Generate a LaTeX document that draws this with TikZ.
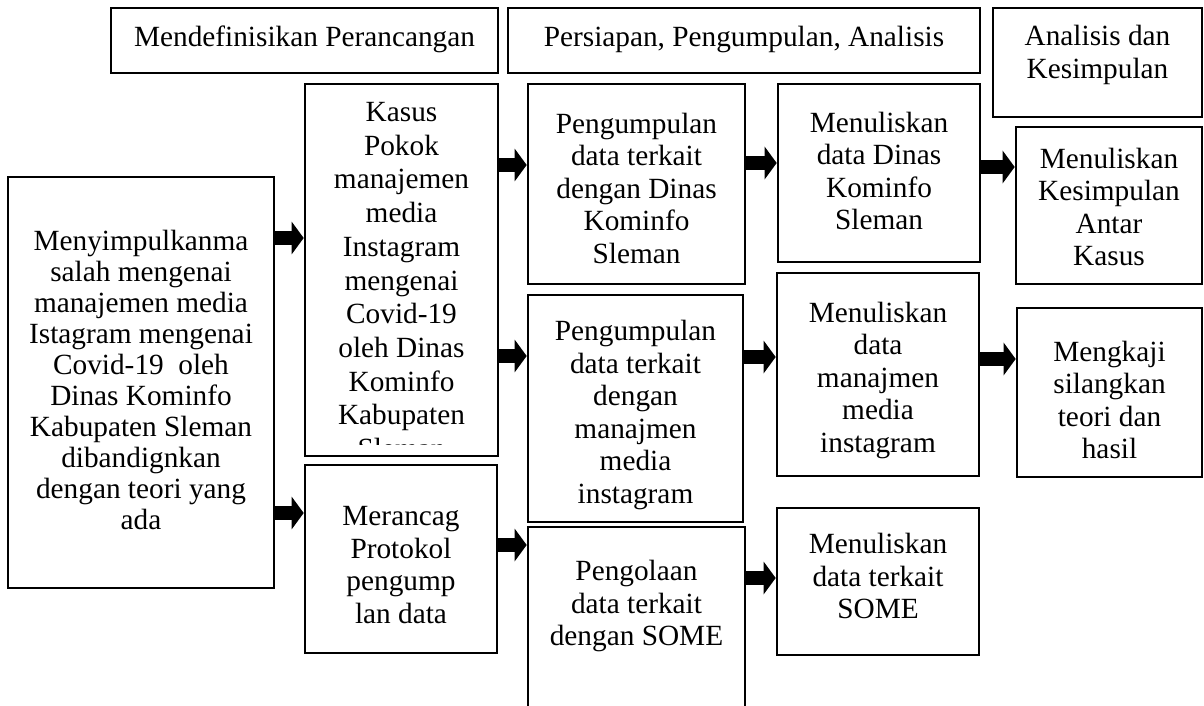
\documentclass[tikz,border=0pt]{standalone}
\usepackage{fontspec}
\setmainfont{Liberation Serif}
\usetikzlibrary{arrows.meta,fit}

\newcommand\isi{\fontsize{14.65}{16.25}\selectfont}
\tikzset{
    kotak/.style={draw, line width=1.3pt, inner sep=0pt},
    teks/.style={inner sep=0pt, align=center, font=\isi},
    panah/.style={line width=7pt, -{Triangle[length=6pt, width=16pt]}},
}

\begin{document}
\begin{tikzpicture}[x=0.5pt, y=-0.5pt]
    \useasboundingbox[fill=white] (0,0) rectangle (1204,706);
    \clip (0,0) rectangle (1204,706);

    % Header row
    \node[kotak, fit={(111,8) (498,73)}] (Hdr1) {};
    \node[teks] (Hdr1t) at (304.5,39) {Mendefinisikan Perancangan};
    \node[kotak, fit={(508,8) (980,73)}] (Hdr2) {};
    \node[teks] (Hdr2t) at (744,39) {Persiapan, Pengumpulan, Analisis};
    \node[kotak, fit={(993,8) (1202,117)}] (Hdr3) {};
    \node[teks] (Hdr3t) at (1097.5,55) {Analisis dan\\Kesimpulan};

    % Column 1
    \node[kotak, fit={(8,177) (274,588)}] (Kiri) {};
    \node[teks, font=\fontsize{14.65}{15.5}\selectfont] (Kirit) at (141,379.5) {Menyimpulkanma\\salah mengenai\\manajemen media\\Istagram mengenai\\Covid-19\ \ oleh\\Dinas Kominfo\\Kabupaten Sleman\\dibandignkan\\dengan teori yang\\ada};

    % Column 2
    \node[kotak, fit={(305,84) (498,456)}] (Kasus) {};
    \begin{scope}
        \clip (305,86) rectangle (498,444);
        \node[teks, font=\fontsize{14.65}{16.85}\selectfont, anchor=north] (Kasust) at (401.5,102) {Kasus\\Pokok\\manajemen\\media\\Instagram\\mengenai\\Covid-19\\oleh Dinas\\Kominfo\\Kabupaten\\Sleman};
    \end{scope}
    \node[kotak, fit={(305,465) (497,653)}] (Rancang) {};
    \node[teks] (Rancangt) at (401,565) {Merancag\\Protokol\\pengump\\lan data};

    % Column 3
    \node[kotak, fit={(528,84) (745,284)}] (Kumpul1) {};
    \node[teks] (Kumpul1t) at (636.5,188) {Pengumpulan\\data terkait\\dengan Dinas\\Kominfo\\Sleman};
    \node[kotak, fit={(528,295) (743,522)}] (Kumpul2) {};
    \node[teks] (Kumpul2t) at (635.5,415) {Pengumpulan\\data terkait\\dengan\\manajmen\\media\\instagram};
    \node[kotak, fit={(528,527) (745,730)}] (Olah) {};
    \node[teks] (Olaht) at (636.5,606) {Pengolaan\\data terkait\\dengan SOME};

    % Column 4
    \node[kotak, fit={(778,84) (980,262)}] (Tulis1) {};
    \node[teks] (Tulis1t) at (879,171) {Menuliskan\\data Dinas\\Kominfo\\Sleman};
    \node[kotak, fit={(777,273) (979,476)}] (Tulis2) {};
    \node[teks] (Tulis2t) at (878,380) {Menuliskan\\data\\manajmen\\media\\instagram};
    \node[kotak, fit={(777,508) (979,655)}] (Tulis3) {};
    \node[teks] (Tulis3t) at (878,576) {Menuliskan\\data terkait\\SOME};

    % Column 5
    \node[kotak, fit={(1016,127) (1202,284)}] (Simpul) {};
    \node[teks] (Simpult) at (1109,207) {Menuliskan\\Kesimpulan\\Antar\\Kasus};
    \node[kotak, fit={(1017,308) (1202,477)}] (Kaji) {};
    \node[teks] (Kajit) at (1109.5,400) {Mengkaji\\silangkan\\teori dan\\hasil};

    % Arrows
    \draw[panah] (Kiri.east |- 0,238) -- (Kasus.west |- 0,238);
    \draw[panah] (Kiri.east |- 0,513) -- (Rancang.west |- 0,513);
    \draw[panah] (Kasus.east |- 0,165) -- (Kumpul1.west |- 0,165);
    \draw[panah] (Kasus.east |- 0,356) -- (Kumpul2.west |- 0,356);
    \draw[panah] (Rancang.east |- 0,545) -- (Olah.west |- 0,545);
    \draw[panah] (Kumpul1.east |- 0,163) -- (Tulis1.west |- 0,163);
    \draw[panah] (Kumpul2.east |- 0,357) -- (Tulis2.west |- 0,357);
    \draw[panah] (Olah.east |- 0,578) -- (Tulis3.west |- 0,578);
    \draw[panah] (Tulis1.east |- 0,167) -- (Simpul.west |- 0,167);
    \draw[panah] (Tulis2.east |- 0,359) -- (Kaji.west |- 0,359);
\end{tikzpicture}
\end{document}
